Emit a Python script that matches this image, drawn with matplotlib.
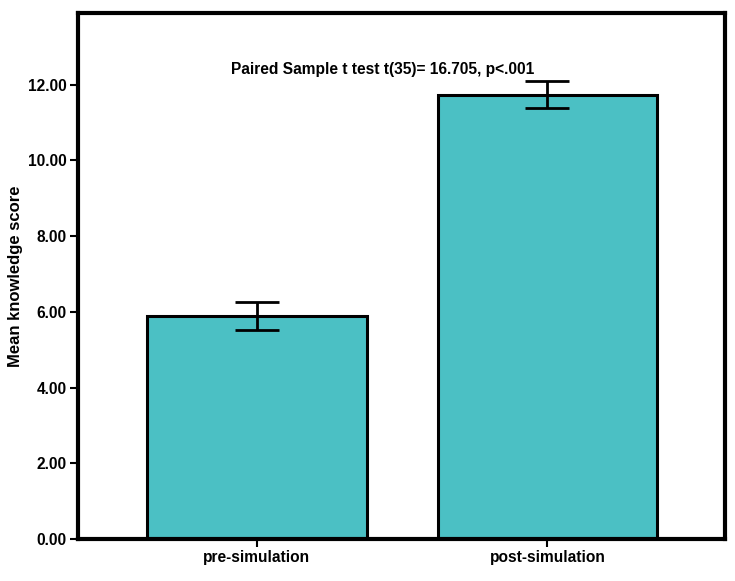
import matplotlib
matplotlib.use('Agg')
import matplotlib.pyplot as plt

plt.rcParams['font.family'] = ['Liberation Sans', 'DejaVu Sans']
plt.rcParams['font.weight'] = 'bold'

groups = ['pre-simulation', 'post-simulation']
means = [5.89, 11.74]
errs = [0.36, 0.36]
yticks = [0, 2, 4, 6, 8, 10, 12]

fig = plt.figure(figsize=(7.35, 5.81), dpi=100)
ax = fig.add_axes([0.106, 0.072, 0.880, 0.906])

x = range(len(groups))
ax.bar(x, means, width=0.756, color='#4bc0c4', edgecolor='black', linewidth=2.2, zorder=2)
ax.errorbar(x, means, yerr=errs, fmt='none', ecolor='black', elinewidth=2,
            capsize=16, capthick=2, zorder=3)

ax.set_xlim(-0.615, 1.61)
ax.set_ylim(0, 13.9)
ax.set_xticks(list(x))
ax.set_xticklabels(groups, fontsize=11.2, fontweight='bold')
ax.set_yticks(yticks)
ax.set_yticklabels(['%.2f' % v for v in yticks], fontsize=11.2, fontweight='bold')
ax.set_ylabel('Mean knowledge score', fontsize=12, fontweight='bold')
ax.yaxis.set_label_coords(-0.085, 0.5)

for s in ax.spines.values():
    s.set_linewidth(3)
ax.tick_params(axis='both', direction='out', length=6, width=1.5, pad=2)

ax.text(0.433, 12.4, 'Paired Sample t test t(35)= 16.705, p<.001',
        ha='center', va='center', fontsize=11.2, fontweight='bold')

fig.savefig('out.png', dpi=100)
